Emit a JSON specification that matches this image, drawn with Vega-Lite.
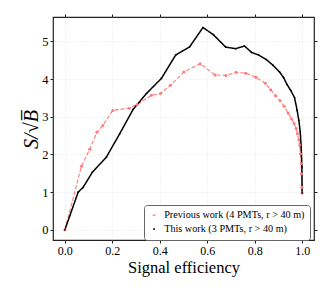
{
  "$schema": "https://vega.github.io/schema/vega-lite/v6.json",
  "autosize": {"type": "none"},
  "padding": {"left": 53, "top": 17, "right": 18, "bottom": 51},
  "width": 261,
  "height": 223,
  "background": "white",
  "config": {
    "font": "Liberation Serif",
    "view": {"stroke": "#222", "strokeWidth": 1.2},
    "legend": {"labelFont": "Liberation Serif"},
    "axis": {
      "labelFont": "Liberation Serif",
      "titleFont": "Liberation Serif",
      "labelColor": "#000",
      "titleColor": "#000",
      "labelFontSize": 12.5,
      "tickColor": "#222",
      "tickSize": 3,
      "domain": false,
      "gridColor": "#d8d8d8",
      "gridDash": [1, 2],
      "gridWidth": 0.6
    }
  },
  "datasets": {
    "curves": [
      {"series": "Previous work (4 PMTs, r > 40 m)", "eff": 0.0, "snr": 0.0},
      {"series": "Previous work (4 PMTs, r > 40 m)", "eff": 0.070, "snr": 1.69},
      {"series": "Previous work (4 PMTs, r > 40 m)", "eff": 0.105, "snr": 2.14},
      {"series": "Previous work (4 PMTs, r > 40 m)", "eff": 0.135, "snr": 2.59},
      {"series": "Previous work (4 PMTs, r > 40 m)", "eff": 0.160, "snr": 2.77},
      {"series": "Previous work (4 PMTs, r > 40 m)", "eff": 0.202, "snr": 3.17},
      {"series": "Previous work (4 PMTs, r > 40 m)", "eff": 0.272, "snr": 3.23},
      {"series": "Previous work (4 PMTs, r > 40 m)", "eff": 0.305, "snr": 3.33},
      {"series": "Previous work (4 PMTs, r > 40 m)", "eff": 0.365, "snr": 3.57},
      {"series": "Previous work (4 PMTs, r > 40 m)", "eff": 0.403, "snr": 3.62},
      {"series": "Previous work (4 PMTs, r > 40 m)", "eff": 0.445, "snr": 3.84},
      {"series": "Previous work (4 PMTs, r > 40 m)", "eff": 0.502, "snr": 4.19},
      {"series": "Previous work (4 PMTs, r > 40 m)", "eff": 0.570, "snr": 4.41},
      {"series": "Previous work (4 PMTs, r > 40 m)", "eff": 0.633, "snr": 4.11},
      {"series": "Previous work (4 PMTs, r > 40 m)", "eff": 0.679, "snr": 4.10},
      {"series": "Previous work (4 PMTs, r > 40 m)", "eff": 0.722, "snr": 4.18},
      {"series": "Previous work (4 PMTs, r > 40 m)", "eff": 0.762, "snr": 4.16},
      {"series": "Previous work (4 PMTs, r > 40 m)", "eff": 0.805, "snr": 4.05},
      {"series": "Previous work (4 PMTs, r > 40 m)", "eff": 0.845, "snr": 3.89},
      {"series": "Previous work (4 PMTs, r > 40 m)", "eff": 0.867, "snr": 3.72},
      {"series": "Previous work (4 PMTs, r > 40 m)", "eff": 0.888, "snr": 3.56},
      {"series": "Previous work (4 PMTs, r > 40 m)", "eff": 0.907, "snr": 3.43},
      {"series": "Previous work (4 PMTs, r > 40 m)", "eff": 0.924, "snr": 3.28},
      {"series": "Previous work (4 PMTs, r > 40 m)", "eff": 0.941, "snr": 3.10},
      {"series": "Previous work (4 PMTs, r > 40 m)", "eff": 0.955, "snr": 2.95},
      {"series": "Previous work (4 PMTs, r > 40 m)", "eff": 0.966, "snr": 2.82},
      {"series": "Previous work (4 PMTs, r > 40 m)", "eff": 0.975, "snr": 2.69},
      {"series": "Previous work (4 PMTs, r > 40 m)", "eff": 0.980, "snr": 2.55},
      {"series": "Previous work (4 PMTs, r > 40 m)", "eff": 0.986, "snr": 2.39},
      {"series": "Previous work (4 PMTs, r > 40 m)", "eff": 0.990, "snr": 2.24},
      {"series": "Previous work (4 PMTs, r > 40 m)", "eff": 0.993, "snr": 2.02},
      {"series": "Previous work (4 PMTs, r > 40 m)", "eff": 0.996, "snr": 1.76},
      {"series": "Previous work (4 PMTs, r > 40 m)", "eff": 0.997, "snr": 1.49},
      {"series": "Previous work (4 PMTs, r > 40 m)", "eff": 0.999, "snr": 1.13},
      {"series": "Previous work (4 PMTs, r > 40 m)", "eff": 1.0, "snr": 0.98},
      {"series": "This work (3 PMTs, r > 40 m)", "eff": 0.0, "snr": 0.0},
      {"series": "This work (3 PMTs, r > 40 m)", "eff": 0.056, "snr": 1.00},
      {"series": "This work (3 PMTs, r > 40 m)", "eff": 0.077, "snr": 1.13},
      {"series": "This work (3 PMTs, r > 40 m)", "eff": 0.116, "snr": 1.53},
      {"series": "This work (3 PMTs, r > 40 m)", "eff": 0.175, "snr": 1.93},
      {"series": "This work (3 PMTs, r > 40 m)", "eff": 0.231, "snr": 2.55},
      {"series": "This work (3 PMTs, r > 40 m)", "eff": 0.288, "snr": 3.20},
      {"series": "This work (3 PMTs, r > 40 m)", "eff": 0.344, "snr": 3.62},
      {"series": "This work (3 PMTs, r > 40 m)", "eff": 0.407, "snr": 4.02},
      {"series": "This work (3 PMTs, r > 40 m)", "eff": 0.467, "snr": 4.64},
      {"series": "This work (3 PMTs, r > 40 m)", "eff": 0.526, "snr": 4.86},
      {"series": "This work (3 PMTs, r > 40 m)", "eff": 0.582, "snr": 5.37},
      {"series": "This work (3 PMTs, r > 40 m)", "eff": 0.626, "snr": 5.18},
      {"series": "This work (3 PMTs, r > 40 m)", "eff": 0.678, "snr": 4.85},
      {"series": "This work (3 PMTs, r > 40 m)", "eff": 0.720, "snr": 4.81},
      {"series": "This work (3 PMTs, r > 40 m)", "eff": 0.757, "snr": 4.88},
      {"series": "This work (3 PMTs, r > 40 m)", "eff": 0.787, "snr": 4.71},
      {"series": "This work (3 PMTs, r > 40 m)", "eff": 0.817, "snr": 4.64},
      {"series": "This work (3 PMTs, r > 40 m)", "eff": 0.849, "snr": 4.52},
      {"series": "This work (3 PMTs, r > 40 m)", "eff": 0.877, "snr": 4.37},
      {"series": "This work (3 PMTs, r > 40 m)", "eff": 0.905, "snr": 4.19},
      {"series": "This work (3 PMTs, r > 40 m)", "eff": 0.922, "snr": 4.04},
      {"series": "This work (3 PMTs, r > 40 m)", "eff": 0.936, "snr": 3.86},
      {"series": "This work (3 PMTs, r > 40 m)", "eff": 0.952, "snr": 3.70},
      {"series": "This work (3 PMTs, r > 40 m)", "eff": 0.968, "snr": 3.51},
      {"series": "This work (3 PMTs, r > 40 m)", "eff": 0.979, "snr": 3.17},
      {"series": "This work (3 PMTs, r > 40 m)", "eff": 0.986, "snr": 2.91},
      {"series": "This work (3 PMTs, r > 40 m)", "eff": 0.992, "snr": 2.60},
      {"series": "This work (3 PMTs, r > 40 m)", "eff": 0.996, "snr": 2.20},
      {"series": "This work (3 PMTs, r > 40 m)", "eff": 0.999, "snr": 1.67},
      {"series": "This work (3 PMTs, r > 40 m)", "eff": 1.0, "snr": 0.98}
    ]
  },
  "data": {"name": "curves"},
  "layer": [
    {
      "mark": {"type": "line", "clip": true},
      "encoding": {
        "x": {
          "field": "eff", "type": "quantitative",
          "scale": {"domain": [-0.05, 1.05], "nice": false, "zero": false},
          "axis": {
            "orient": "bottom",
            "values": [0, 0.2, 0.4, 0.6, 0.8, 1.0], "format": ".1f",
            "labelFont": "Liberation Serif", "labelFontSize": 12,
            "title": "Signal efficiency", "titleFont": "Liberation Serif", "titleFontSize": 16.5, "titleFontWeight": "normal",
            "titleBaseline": "alphabetic", "titleY": 32, "labelPadding": 2
          }
        },
        "y": {
          "field": "snr", "type": "quantitative",
          "scale": {"domain": [-0.27, 5.65], "nice": false, "zero": false},
          "axis": {
            "orient": "left",
            "values": [0, 1, 2, 3, 4, 5],
            "labelFont": "Liberation Serif", "labelFontSize": 12.5,
            "title": "S/√B̅", "titleFont": "Liberation Serif", "titleFontSize": 20, "titleFontWeight": "normal", "titleFontStyle": "italic",
            "titleX": -22, "titleY": 112, "titleBaseline": "middle", "titleAlign": "center", "labelPadding": 2
          }
        },
        "color": {
          "field": "series", "type": "nominal",
          "scale": {"domain": ["Previous work (4 PMTs, r > 40 m)", "This work (3 PMTs, r > 40 m)"], "range": ["#ff7a7a", "#000000"]},
          "legend": {
            "title": null, "orient": "none", "legendX": 91, "legendY": 188,
            "labelFont": "Liberation Serif", "labelFontSize": 10.2, "labelColor": "#000",
            "symbolType": "M-1,0H1M0.13,0A0.13,0.13,0,1,1,-0.13,0A0.13,0.13,0,1,1,0.13,0",
            "symbolSize": 225, "symbolStrokeWidth": 1.3,
            "strokeColor": "#666", "cornerRadius": 3, "fillColor": "white",
            "padding": 5, "rowPadding": 3, "labelOffset": 5
          }
        },
        "strokeDash": {
          "field": "series", "type": "nominal",
          "scale": {"domain": ["Previous work (4 PMTs, r > 40 m)", "This work (3 PMTs, r > 40 m)"], "range": [[4, 2], [1, 0]]},
          "legend": null
        },
        "strokeWidth": {
          "field": "series", "type": "nominal",
          "scale": {"domain": ["Previous work (4 PMTs, r > 40 m)", "This work (3 PMTs, r > 40 m)"], "range": [1.1, 1.5]},
          "legend": null
        }
      }
    },
    {
      "mark": {"type": "point", "filled": true, "opacity": 1},
      "encoding": {
        "x": {"field": "eff", "type": "quantitative", "axis": null},
        "y": {"field": "snr", "type": "quantitative", "axis": null},
        "color": {"field": "series", "type": "nominal", "legend": null},
        "size": {
          "field": "series", "type": "nominal",
          "scale": {"domain": ["Previous work (4 PMTs, r > 40 m)", "This work (3 PMTs, r > 40 m)"], "range": [9, 3]},
          "legend": null
        }
      }
    },
    {
      "mark": {"type": "point", "opacity": 0},
      "encoding": {
        "x": {
          "field": "eff", "type": "quantitative",
          "axis": {"orient": "top", "values": [0, 0.2, 0.4, 0.6, 0.8, 1.0], "labels": false, "title": null, "grid": false}
        },
        "y": {
          "field": "snr", "type": "quantitative",
          "axis": {"orient": "right", "values": [0, 1, 2, 3, 4, 5], "labels": false, "title": null, "grid": false}
        }
      }
    }
  ],
  "resolve": {"axis": {"x": "independent", "y": "independent"}}
}
